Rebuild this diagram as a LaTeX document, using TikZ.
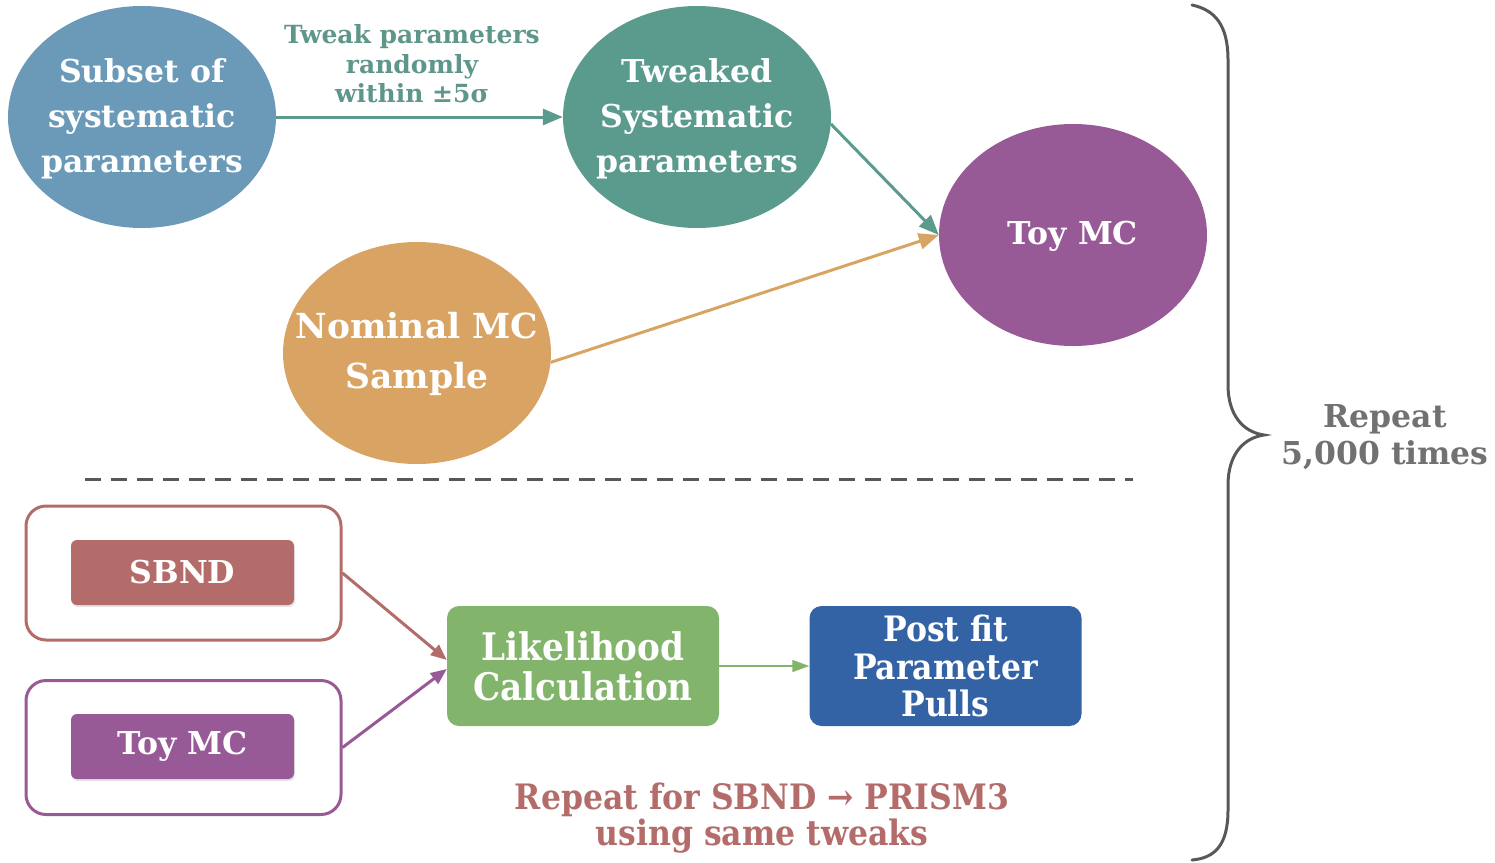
\documentclass[tikz,border=0pt]{standalone}
\usepackage{fontspec}
\setmainfont{DejaVu Serif}
\newfontfamily\condf{DejaVu Serif Condensed}
\usetikzlibrary{arrows.meta,shapes.geometric,calc,shadows}
\definecolor{cblue}{RGB}{106,154,183}
\definecolor{cteal}{RGB}{90,155,142}
\definecolor{corange}{RGB}{217,164,99}
\definecolor{cpurple}{RGB}{152,90,150}
\definecolor{cred}{RGB}{179,108,106}
\definecolor{cgreen}{RGB}{130,180,108}
\definecolor{cdblue}{RGB}{52,99,165}
\definecolor{cgray}{RGB}{88,88,88}
\definecolor{ctext}{RGB}{95,150,140}
\begin{document}
\begin{tikzpicture}[x=1pt,y=-1pt,
  ell/.style={ellipse,minimum width=268pt,minimum height=222pt,inner sep=0pt,draw=none},
  etext/.style={text=white,align=center,font=\bfseries\fontsize{31.5}{45}\selectfont},
  outerbox/.style={rounded corners=20pt,line width=3pt,minimum width=315pt,minimum height=134pt,fill=white},
  innerbox/.style={rounded corners=6pt,minimum width=223pt,minimum height=65pt,text=white,font=\bfseries\fontsize{31.5}{36}\selectfont,drop shadow={shadow xshift=1pt,shadow yshift=-2pt,opacity=0.2}},
  bigbox/.style={rounded corners=12pt,minimum width=272pt,minimum height=120pt,text=white,align=center},
  conn/.style={line width=3pt,-{Triangle[length=20pt,width=16pt]}},
  sconn/.style={line width=3pt,-{Triangle[length=16pt,width=13pt]}}
]
\useasboundingbox (0,0) rectangle (1495,862);
% ellipses
\node[ell,fill=cblue] (e1) at (142,117) {};
\node[etext] (t1) at (142,119) {Subset of\\systematic\\parameters};
\node[ell,fill=cteal] (e2) at (697,117) {};
\node[etext] (t2) at (697,119) {Tweaked\\Systematic\\parameters};
\node[ell,fill=corange] (e3) at (417,353) {};
\node[etext,font=\bfseries\fontsize{34.5}{50}\selectfont] (t3) at (417,354) {Nominal MC\\Sample};
\node[ell,fill=cpurple] (e4) at (1073,235) {};
\node[etext] (t4) at (1073,236) {Toy MC};
% top arrows
\draw[conn,cteal] (e1.east) -- (e2.west);
\node[text=ctext,align=center,font=\bfseries\fontsize{25}{29.5}\selectfont] (lab) at (412,64) {Tweak parameters\\randomly\\within ±5σ};
\draw[conn,cteal] (e2.-3) -- (e4.west);
\draw[conn,corange] (e3.-4) -- (e4.west);
% dashed separator
\coordinate (dl) at (85,479);
\coordinate (dr) at (1133,479);
\draw[cgray,line width=3pt,dash pattern=on 16pt off 10pt] (dl) -- (dr);
% bottom boxes
\node[outerbox,draw=cred] (sbo) at (183.5,573) {};
\node[innerbox,fill=cred] (sbi) at (182.5,572.5) {SBND};
\node[outerbox,draw=cpurple] (tyo) at (183.5,747.5) {};
\node[innerbox,fill=cpurple] (tyi) at (182.5,746.5) {Toy MC};
\node[bigbox,fill=cgreen,font=\condf\bfseries\fontsize{38}{40}\selectfont] (lik) at (583,666) {Likelihood\\Calculation};
\node[bigbox,fill=cdblue,font=\condf\bfseries\fontsize{35}{37.5}\selectfont] (post) at (945.5,666) {Post fit\\Parameter\\Pulls};
\draw[sconn,cred] (sbo.east) -- ($(lik.west)+(0,-6)$);
\draw[sconn,cpurple] (tyo.east) -- ($(lik.west)+(0,3)$);
\draw[cgreen,line width=1.5pt,-{Triangle[length=17pt,width=12pt]}] (lik.east) -- (post.west);
\node[text=cred,align=center,font=\condf\bfseries\fontsize{35}{36}\selectfont] (rep2) at (762,818) {Repeat for SBND → PRISM3\\using same tweaks};
% brace
\draw[cgray,line width=3pt,line cap=round] (1192,5) .. controls (1215,10) and (1228,25) .. (1228,60) -- (1228,385) .. controls (1228,415) and (1243,432) .. (1264,435) .. controls (1243,438) and (1228,455) .. (1228,485) -- (1228,810) .. controls (1228,845) and (1215,858) .. (1192,860);
\node[text=cgray!85,align=center,font=\bfseries\fontsize{31.5}{37}\selectfont] (rep) at (1385,437) {Repeat\\5,000 times};
\end{tikzpicture}
\end{document}
